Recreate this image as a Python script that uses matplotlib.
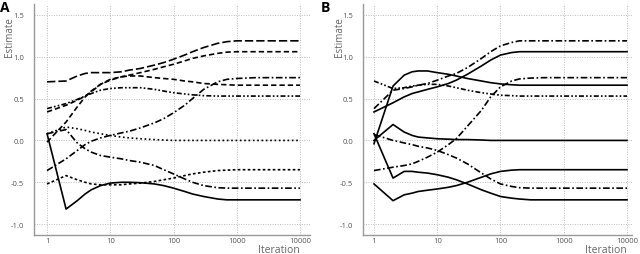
import numpy as np
import matplotlib
matplotlib.use("Agg")
import matplotlib.pyplot as plt
from matplotlib.ticker import FixedLocator, FixedFormatter

# iterations at which estimates were read
iters = [1, 2, 3, 4, 5, 7, 10, 15, 20, 30, 50, 70, 100, 150, 200, 300, 500, 700, 1000, 2000, 10000]

# panel A
a_long = [0.70, 0.71, 0.77, 0.80, 0.81, 0.81, 0.81, 0.82, 0.84, 0.86, 0.90, 0.93, 0.97, 1.02, 1.06,
          1.11, 1.16, 1.18, 1.19, 1.19, 1.19]
a_dash1 = [-0.02, 0.22, 0.40, 0.52, 0.59, 0.67, 0.72, 0.76, 0.78, 0.81, 0.85, 0.88, 0.91, 0.95, 0.98,
           1.01, 1.04, 1.055, 1.06, 1.06, 1.06]
a_dash2 = [0.34, 0.42, 0.48, 0.53, 0.58, 0.67, 0.73, 0.76, 0.77, 0.77, 0.75, 0.74, 0.73, 0.71, 0.70,
           0.68, 0.67, 0.665, 0.66, 0.66, 0.66]
a_dashdotdot = [0.38, 0.44, 0.49, 0.53, 0.56, 0.60, 0.62, 0.63, 0.63, 0.63, 0.61, 0.59, 0.57, 0.555, 0.545,
                0.535, 0.53, 0.53, 0.53, 0.53, 0.53]
a_dashdot_up = [-0.36, -0.22, -0.12, -0.05, -0.01, 0.03, 0.06, 0.09, 0.11, 0.15, 0.21, 0.26, 0.33, 0.42, 0.50,
                0.61, 0.70, 0.73, 0.74, 0.75, 0.75]
a_dot = [0.08, 0.16, 0.14, 0.12, 0.10, 0.08, 0.06, 0.04, 0.03, 0.02, 0.01, 0.005, 0.0, 0.0, 0.0,
         0.0, 0.0, 0.0, 0.0, 0.0, 0.0]
a_short = [-0.52, -0.42, -0.47, -0.50, -0.52, -0.53, -0.53, -0.53, -0.52, -0.51, -0.49, -0.47, -0.45, -0.42, -0.40,
           -0.38, -0.36, -0.355, -0.35, -0.35, -0.35]
a_dashdot_down = [0.08, 0.13, -0.03, -0.10, -0.14, -0.18, -0.20, -0.22, -0.24, -0.26, -0.30, -0.35, -0.40, -0.46,
                  -0.50, -0.54, -0.565, -0.57, -0.57, -0.57, -0.57]
a_solid = [0.08, -0.82, -0.72, -0.64, -0.59, -0.54, -0.51, -0.50, -0.50, -0.505, -0.52, -0.54, -0.57, -0.61, -0.64,
           -0.67, -0.70, -0.71, -0.71, -0.71, -0.71]

# panel B
b_dashdot_top = [0.38, 0.60, 0.62, 0.64, 0.66, 0.68, 0.72, 0.77, 0.80, 0.87, 0.98, 1.06, 1.13, 1.17, 1.19,
                 1.19, 1.19, 1.19, 1.19, 1.19, 1.19]
b_solid_up = [0.34, 0.45, 0.52, 0.56, 0.58, 0.61, 0.64, 0.68, 0.72, 0.79, 0.89, 0.96, 1.02, 1.05, 1.06,
              1.06, 1.06, 1.06, 1.06, 1.06, 1.06]
b_solid_peak = [-0.04, 0.65, 0.78, 0.82, 0.83, 0.83, 0.81, 0.79, 0.77, 0.74, 0.71, 0.69, 0.675, 0.665, 0.66,
                0.66, 0.66, 0.66, 0.66, 0.66, 0.66]
b_dashdot_mid = [0.71, 0.62, 0.63, 0.65, 0.66, 0.67, 0.67, 0.65, 0.63, 0.60, 0.57, 0.555, 0.54, 0.535, 0.53,
                 0.53, 0.53, 0.53, 0.53, 0.53, 0.53]
b_dashdot_up = [-0.36, -0.32, -0.30, -0.28, -0.25, -0.20, -0.14, -0.05, 0.02, 0.17, 0.36, 0.52, 0.64, 0.71, 0.735,
                0.745, 0.75, 0.75, 0.75, 0.75, 0.75]
b_solid_zero = [0.0, 0.19, 0.10, 0.06, 0.04, 0.03, 0.02, 0.015, 0.01, 0.01, 0.005, 0.0, 0.0, 0.0, 0.0,
                0.0, 0.0, 0.0, 0.0, 0.0, 0.0]
b_dashdot_down = [0.07, 0.0, -0.03, -0.05, -0.07, -0.09, -0.12, -0.17, -0.21, -0.28, -0.39, -0.46, -0.52, -0.55,
                  -0.565, -0.57, -0.57, -0.57, -0.57, -0.57, -0.57]
b_solid_low1 = [0.08, -0.45, -0.37, -0.37, -0.38, -0.39, -0.41, -0.44, -0.47, -0.52, -0.59, -0.63, -0.67, -0.69,
                -0.70, -0.71, -0.71, -0.71, -0.71, -0.71, -0.71]
b_solid_low2 = [-0.52, -0.72, -0.65, -0.63, -0.61, -0.595, -0.58, -0.56, -0.54, -0.50, -0.44, -0.40, -0.37, -0.355,
                -0.35, -0.35, -0.35, -0.35, -0.35, -0.35, -0.35]

xticks = [1, 10, 100, 1000, 10000]
xticklabels = ["1", "10", "100", "1000", "10000"]
yticks = [-1.0, -0.5, 0.0, 0.5, 1.0, 1.5]
yticklabels = ["-1.0", "-0.5", "0.0", "0.5", "1.0", "1.5"]

LONG = (0, (5, 1.8))
DASH = (0, (3.2, 1.8))
DASHDOT = (0, (4, 1.5, 1, 1.5))
DASHDOTDOT = (0, (3, 1.3, 1, 1.3, 1, 1.3))
DOT = (0, (1, 1.6))
SHORT = (0, (1.6, 1.4))
SOLID = "-"

plt.rcParams['font.family'] = ['Open Sans', 'DejaVu Sans']

fig = plt.figure(figsize=(6.4, 2.55), dpi=100)
axA = fig.add_axes([34 / 640, 19 / 255, 276 / 640, 231 / 255])
axB = fig.add_axes([363 / 640, 19 / 255, 269 / 640, 231 / 255])

panels = [
    (axA, "A", 0, 300, (10 ** (-13 / 63), 10 ** (4 + 10 / 63)), [
        (a_long, LONG), (a_dash1, DASH), (a_dash2, DASH), (a_dashdotdot, DASHDOTDOT),
        (a_dashdot_up, DASHDOT), (a_dot, DOT), (a_short, SHORT),
        (a_dashdot_down, DASHDOT), (a_solid, SOLID)]),
    (axB, "B", 321, 627, (10 ** (-11 / 63.3), 10 ** (4 + 5 / 63.3)), [
        (b_dashdot_top, DASHDOT), (b_solid_up, SOLID), (b_solid_peak, SOLID),
        (b_dashdot_mid, DASHDOTDOT), (b_dashdot_up, DASHDOT), (b_solid_zero, SOLID),
        (b_dashdot_down, DASHDOT), (b_solid_low1, SOLID), (b_solid_low2, SOLID)]),
]

for ax, letter, letter_x, xlab_right, xlim, series in panels:
    for vals, ls in series:
        ax.plot(iters, vals, color="black", lw=1.2, linestyle=ls)
    ax.set_xscale("log")
    ax.set_xlim(*xlim)
    ax.set_ylim(-1.13, 1.63)
    ax.xaxis.set_major_locator(FixedLocator(xticks))
    ax.xaxis.set_major_formatter(FixedFormatter(xticklabels))
    ax.xaxis.set_minor_locator(FixedLocator([]))
    ax.yaxis.set_major_locator(FixedLocator(yticks))
    ax.yaxis.set_major_formatter(FixedFormatter(yticklabels))
    ax.tick_params(length=0, labelsize=5.5, labelcolor="#555555")
    ax.tick_params(axis="x", pad=1.5)
    ax.tick_params(axis="y", pad=7)
    ax.grid(True, color="#bbbbbb", lw=0.7, linestyle=(0, (1, 1.5)))
    ax.set_axisbelow(True)
    for s in ["top", "right"]:
        ax.spines[s].set_visible(False)
    for s in ["left", "bottom"]:
        ax.spines[s].set_color("#999999")
        ax.spines[s].set_linewidth(1.0)
    ax.set_ylabel("Estimate", fontsize=7, color="#666666")
    ax.yaxis.set_label_coords(-0.068, 0.86)
    fig.text(xlab_right / 640, 2 / 255, "Iteration", fontsize=7.5, color="#666666",
             ha="right", va="baseline")
    fig.text(letter_x / 640, 1 - 1 / 255, letter, fontsize=10, fontweight="bold",
             va="top", ha="left")

fig.savefig("out.png", dpi=100)
